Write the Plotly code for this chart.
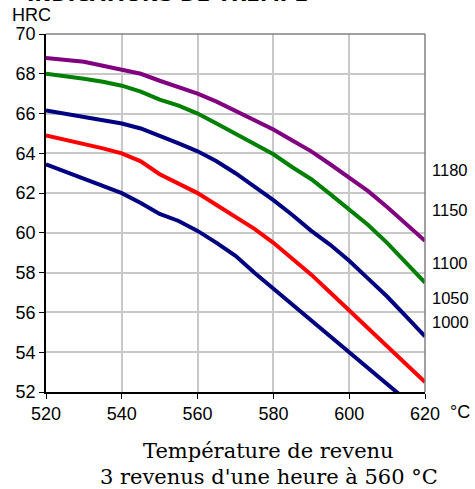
import plotly.graph_objects as go

temps = [520, 525, 530, 535, 540, 545, 550, 555, 560, 565, 570, 575, 580, 585, 590, 595, 600, 605, 610, 615, 620]
hrc_purple = [68.8, 68.72, 68.6, 68.4, 68.2, 68.0, 67.65, 67.35, 67.0, 66.6, 66.15, 65.7, 65.2, 64.65, 64.1, 63.45, 62.8, 62.1, 61.3, 60.45, 59.6]
hrc_green = [68.0, 67.9, 67.75, 67.6, 67.4, 67.1, 66.7, 66.4, 66.0, 65.5, 65.0, 64.5, 63.95, 63.3, 62.7, 61.95, 61.2, 60.4, 59.5, 58.5, 57.5]
hrc_navy_up = [66.15, 66.0, 65.85, 65.7, 65.5, 65.25, 64.9, 64.5, 64.1, 63.6, 63.0, 62.35, 61.65, 60.9, 60.1, 59.4, 58.6, 57.7, 56.8, 55.8, 54.8]
hrc_red = [64.9, 64.7, 64.5, 64.25, 64.0, 63.6, 62.95, 62.5, 62.0, 61.4, 60.8, 60.2, 59.5, 58.7, 57.9, 57.0, 56.1, 55.2, 54.3, 53.4, 52.5]
hrc_navy_low = [63.45, 63.1, 62.75, 62.4, 62.0, 61.5, 60.95, 60.6, 60.1, 59.5, 58.85, 58.0, 57.2, 56.4, 55.6, 54.8, 54.0, 53.2, 52.45, 51.6, 50.8]

quench_labels = ["1180", "1150", "1100", "1050", "1000"]
quench_label_y = [63.17, 61.16, 58.49, 56.73, 55.53]

x_ticks = [520, 540, 560, 580, 600, 620]
y_ticks = [52, 54, 56, 58, 60, 62, 64, 66, 68, 70]

series = [
    (hrc_purple, "#800080"),
    (hrc_green, "#008000"),
    (hrc_navy_up, "#000080"),
    (hrc_red, "#ff0000"),
    (hrc_navy_low, "#000080"),
]

fig = go.Figure()
for vals, col in series:
    fig.add_trace(go.Scatter(x=temps, y=vals, mode="lines",
                             line=dict(color=col, width=4), showlegend=False,
                             hoverinfo="skip"))

FONT = "Liberation Sans, Arial, sans-serif"
fig.update_layout(
    width=475, height=489,
    margin=dict(l=46, r=50, t=34, b=97),
    paper_bgcolor="white", plot_bgcolor="white",
    showlegend=False,
    font=dict(family=FONT, size=18, color="black"),
    xaxis=dict(range=[520, 620], tickvals=x_ticks, ticks="outside", ticklen=5,
               tickcolor="black", showline=True, linecolor="black", linewidth=1.5,
               showgrid=True, gridcolor="#c8c8c8", gridwidth=1.5, zeroline=False,
               tickfont=dict(size=18, family=FONT)),
    yaxis=dict(range=[52, 70], tickvals=y_ticks, ticks="outside", ticklen=5,
               tickcolor="black", showline=True, linecolor="black", linewidth=1.5,
               showgrid=True, gridcolor="#c8c8c8", gridwidth=1.5, zeroline=False,
               tickfont=dict(size=18, family=FONT)),
)

# top and right gray frame
fig.add_shape(type="line", xref="paper", yref="paper", x0=0, x1=1, y0=1, y1=1,
              line=dict(color="#808080", width=1.5))
fig.add_shape(type="line", xref="paper", yref="paper", x0=1, x1=1, y0=0, y1=1,
              line=dict(color="#808080", width=1.5))

for lab, yv in zip(quench_labels, quench_label_y):
    fig.add_annotation(text=lab, xref="paper", yref="y", x=1.014, y=yv,
                       xanchor="left", yanchor="middle", showarrow=False,
                       font=dict(size=16.5, family=FONT))

fig.add_annotation(text="HRC", xref="paper", yref="paper", x=-0.095, y=1.053,
                   xanchor="left", yanchor="middle", showarrow=False,
                   font=dict(size=18, family=FONT))
fig.add_annotation(text="°C", xref="paper", yref="paper", x=1.092, y=-0.056,
                   xanchor="center", yanchor="middle", showarrow=False,
                   font=dict(size=18, family=FONT))
fig.add_annotation(text="INDICATIONS DE TREMPE", xref="paper", yref="paper",
                   x=-0.055, y=1.111, xanchor="left", yanchor="middle", showarrow=False,
                   font=dict(size=20, family="DejaVu Sans", weight="bold"))
fig.add_annotation(text="Température de revenu", xref="paper", yref="paper",
                   x=0.588, y=-0.164, xanchor="center", yanchor="middle", showarrow=False,
                   font=dict(size=21, family="DejaVu Serif"))
fig.add_annotation(text="3 revenus d'une heure à 560 °C", xref="paper", yref="paper",
                   x=0.588, y=-0.237, xanchor="center", yanchor="middle", showarrow=False,
                   font=dict(size=21, family="DejaVu Serif"))

fig.write_html("out.html")
